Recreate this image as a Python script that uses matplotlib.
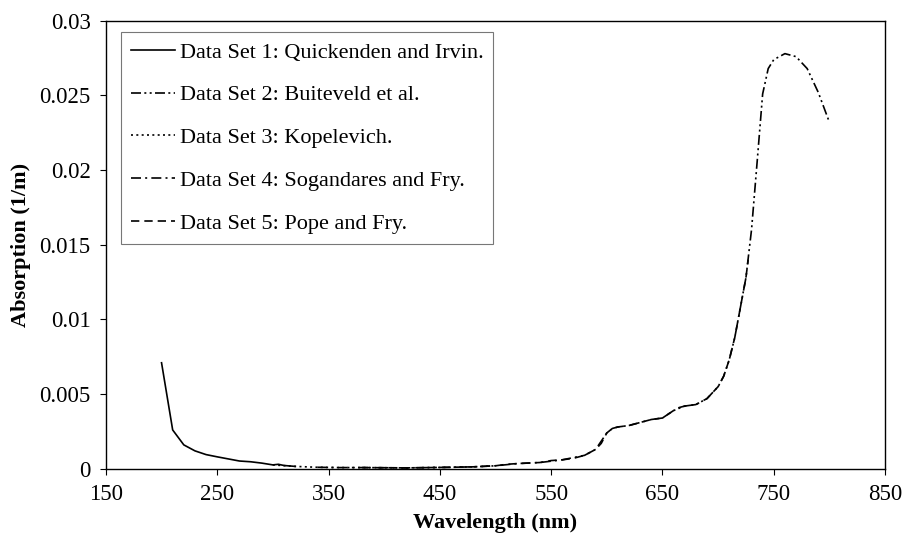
import matplotlib
matplotlib.use("Agg")
import matplotlib.pyplot as plt

plt.rcParams['font.family'] = ['Liberation Serif', 'DejaVu Serif']

# Data Set 1: Quickenden and Irvin
wl1 = [200, 210, 220, 230, 240, 250, 260, 270, 280, 290, 300, 305, 310, 320]
ab1 = [0.0071, 0.0026, 0.0016, 0.0012, 0.00095, 0.0008, 0.00066, 0.00052, 0.00047,
       0.00038, 0.00026, 0.0003, 0.00022, 0.00016]

# Data Set 2: Buiteveld et al.
wl2 = [650, 660, 670, 680, 690, 700, 705, 710, 715, 720, 725, 730, 735, 740, 745,
       750, 760, 770, 780, 790, 800]
ab2 = [0.0034, 0.0039, 0.0042, 0.0043, 0.0047, 0.0055, 0.0062, 0.0073, 0.0088, 0.0108,
       0.0128, 0.016, 0.0205, 0.0251, 0.0268, 0.0274, 0.0278, 0.0276, 0.0268, 0.0252, 0.0232]

# Data Set 3: Kopelevich
wl3 = [300, 320, 340, 360, 380, 400, 420, 440, 460, 480, 500]
ab3 = [0.00026, 0.00016, 0.0001, 0.00008, 0.00008, 0.00007, 0.00006, 0.00008, 0.0001,
       0.00013, 0.0002]

# Data Set 4: Sogandares and Fry
wl4 = [340, 360, 380, 400, 420, 440, 460, 480, 500, 520, 540, 560, 580, 590, 600, 605,
       610, 620, 630, 640, 650]
ab4 = [0.0001, 0.00008, 0.00008, 0.00007, 0.00006, 0.00008, 0.0001, 0.00013, 0.0002,
       0.00035, 0.00042, 0.0006, 0.0009, 0.0013, 0.0024, 0.0027, 0.0028, 0.0029, 0.0031,
       0.0033, 0.0034]

# Data Set 5: Pope and Fry
wl5 = [380, 400, 420, 440, 460, 480, 500, 510, 520, 540, 550, 560, 570, 580, 590, 595,
       600, 605, 610, 620, 630, 640, 650, 660, 665, 670, 680, 690, 700, 705, 710, 715,
       720, 725, 727]
ab5 = [0.00008, 0.00007, 0.00006, 0.00008, 0.0001, 0.00013, 0.0002, 0.0003, 0.00035,
       0.00042, 0.00055, 0.0006, 0.0007, 0.0009, 0.0013, 0.0017, 0.0024, 0.0027, 0.0028,
       0.0029, 0.0031, 0.0033, 0.0034, 0.0039, 0.0041, 0.0042, 0.0043, 0.0047, 0.0055,
       0.0062, 0.0073, 0.0088, 0.0108, 0.0128, 0.014]

labels = ["Data Set 1: Quickenden and Irvin.", "Data Set 2: Buiteveld et al.",
          "Data Set 3: Kopelevich.", "Data Set 4: Sogandares and Fry.",
          "Data Set 5: Pope and Fry."]

xticks = [150, 250, 350, 450, 550, 650, 750, 850]
yticks = [0, 0.005, 0.01, 0.015, 0.02, 0.025, 0.03]
yticklabels = ["0", "0.005", "0.01", "0.015", "0.02", "0.025", "0.03"]

fig = plt.figure(figsize=(9.05, 5.47), dpi=100)
ax = fig.add_axes([0.117, 0.143, 0.861, 0.819])

lw = 1.2
ax.plot(wl1, ab1, color='black', lw=lw, linestyle='-', label=labels[0])
ax.plot(wl2, ab2, color='black', lw=lw, linestyle=(0, (6, 2, 1.2, 2, 1.2, 2)), label=labels[1])
ax.plot(wl3, ab3, color='black', lw=lw, linestyle=(0, (1.2, 2)), label=labels[2])
ax.plot(wl4, ab4, color='black', lw=lw, linestyle=(0, (6, 2.5, 1.2, 2.5)), label=labels[3])
ax.plot(wl5, ab5, color='black', lw=lw, linestyle=(0, (5, 3)), label=labels[4])

ax.set_xlim(150, 850)
ax.set_ylim(0, 0.03)
ax.set_xticks(xticks)
ax.set_xticklabels([str(v) for v in xticks])
ax.set_yticks(yticks)
ax.set_yticklabels(yticklabels)
ax.tick_params(direction='out', length=4, width=0.8, labelsize=16.5, pad=7)

for s in ax.spines.values():
    s.set_linewidth(1.0)
    s.set_color('black')

ax.set_xlabel("Wavelength (nm)", fontsize=16, fontweight='bold', labelpad=6)
ax.set_ylabel("Absorption (1/m)", fontsize=16, fontweight='bold', labelpad=6)

leg = ax.legend(loc='upper left', bbox_to_anchor=(0.019, 0.975), fontsize=16,
                frameon=True, fancybox=False, edgecolor='#555555', handlelength=2.0,
                handletextpad=0.2, labelspacing=1.0, borderpad=0.45, borderaxespad=0.0)
leg.get_frame().set_linewidth(0.8)

fig.savefig("out.png", dpi=100)
